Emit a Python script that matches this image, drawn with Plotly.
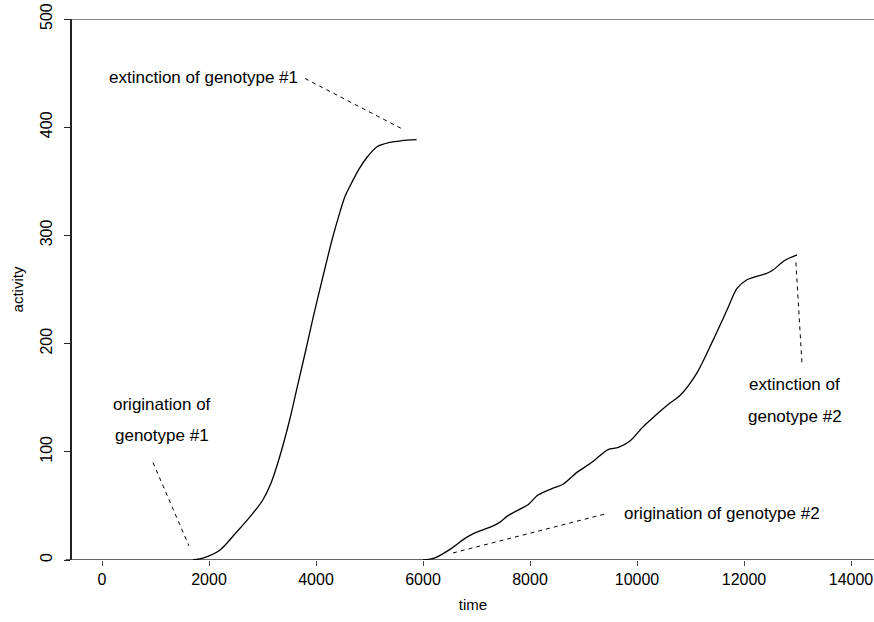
import plotly.graph_objects as go

# genotype #1 activity curve
g1_time = [1700, 1900, 2200, 2500, 2800, 3000, 3150, 3300, 3500, 3650, 3800, 3950,
           4130, 4300, 4450, 4550, 4650, 4800, 4950, 5140, 5380, 5600, 5880]
g1_act = [0, 2, 9, 25, 42, 55, 70, 92, 128, 160, 192, 225,
          262, 296, 322, 337, 347, 361, 372, 382, 386, 387.5, 388.5]

# genotype #2 activity curve
g2_time = [6000, 6224, 6541, 6785, 6972, 7290, 7439, 7589, 7813, 7963, 8150, 8411,
           8617, 8878, 9177, 9457, 9650, 9868, 10111, 10242, 10616, 10803, 11121,
           11420, 11682, 11869, 12056, 12430, 12542, 12766, 12991]
g2_act = [0, 2, 11, 20, 25, 31, 35, 41, 47, 51, 60, 66,
          70, 81, 91, 102, 104, 110, 123, 129, 145, 152, 173,
          203, 231, 251, 259, 265, 268, 277, 282]

# annotation pointer lines (dashed)
ptr_ext1_x = [3795, 5627]
ptr_ext1_y = [445, 398]
ptr_org1_x = [953, 1626]
ptr_org1_y = [90, 13]
ptr_org2_x = [6560, 9400]
ptr_org2_y = [6.5, 42.5]
ptr_ext2_x = [12970, 13083]
ptr_ext2_y = [275, 182]

# annotation texts: (text, x, y, anchor)
labels = [
    ("extinction of genotype #1", 1888, 446, "center"),
    ("origination of", 1121, 144, "center"),
    ("genotype #1", 1121, 115, "center"),
    ("origination of genotype #2", 9720, 43, "left"),
    ("extinction of", 12953, 162, "center"),
    ("genotype #2", 12953, 133, "center"),
]

x_ticks = [0, 2000, 4000, 6000, 8000, 10000, 12000, 14000]
y_ticks = [0, 100, 200, 300, 400, 500]

FONT = "Liberation Sans, Arial, sans-serif"

fig = go.Figure()
fig.add_trace(go.Scatter(x=g1_time, y=g1_act, mode="lines",
                         line=dict(color="black", width=1.3, shape="spline", smoothing=0.8)))
fig.add_trace(go.Scatter(x=g2_time, y=g2_act, mode="lines",
                         line=dict(color="black", width=1.3, shape="spline", smoothing=0.8)))
for px, py in [(ptr_ext1_x, ptr_ext1_y), (ptr_org1_x, ptr_org1_y),
               (ptr_org2_x, ptr_org2_y), (ptr_ext2_x, ptr_ext2_y)]:
    fig.add_trace(go.Scatter(x=px, y=py, mode="lines",
                             line=dict(color="black", width=1, dash="4px,4px")))

for txt, x, y, anc in labels:
    fig.add_annotation(x=x, y=y, text=txt, showarrow=False, xanchor=anc,
                       yanchor="middle", font=dict(family=FONT, size=17, color="black"))

# horizontal gray lines at 0 and 500 extending slightly left of the y axis
for yv, col in [(0, "#666666"), (500, "#888888")]:
    fig.add_shape(type="line", xref="paper", yref="y", x0=-0.008, x1=1.0, y0=yv, y1=yv,
                  line=dict(color=col, width=2), layer="below")

fig.update_layout(
    width=874, height=622,
    margin=dict(l=72, r=0, t=19, b=62),
    paper_bgcolor="white", plot_bgcolor="white",
    showlegend=False,
    font=dict(family=FONT, size=16, color="black"),
    xaxis=dict(range=[-561, 14430], tickvals=x_ticks, ticktext=[str(v) for v in x_ticks],
               showgrid=False, zeroline=False, showline=False,
               ticks="outside", ticklen=5, tickcolor="#444444", tickwidth=1,
               tickfont=dict(family=FONT, size=16),
               title=dict(text="time", font=dict(family=FONT, size=15), standoff=12)),
    yaxis=dict(range=[0, 500], tickvals=y_ticks, ticktext=[str(v) for v in y_ticks],
               showgrid=False, zeroline=False, showline=True, linecolor="#222222", linewidth=2,
               ticks="outside", ticklen=6, tickcolor="#222222", tickwidth=1,
               tickangle=-90, tickfont=dict(family=FONT, size=16), ticklabelstandoff=6,
               title=dict(text="activity", font=dict(family=FONT, size=15), standoff=10)),
)

fig.write_html("out.html")
